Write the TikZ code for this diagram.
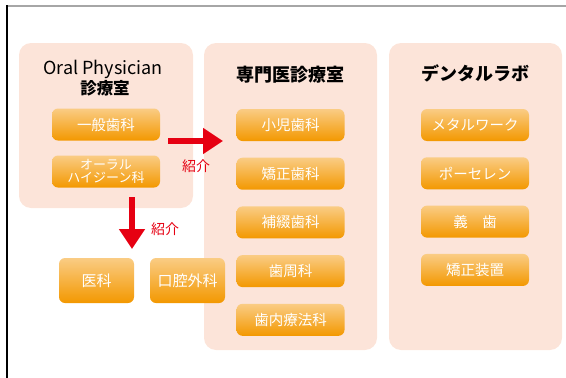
\documentclass[tikz,border=0pt]{standalone}
\usepackage{fontspec}
\setmainfont{Noto Sans CJK JP}
\usepackage{tikz}
\usetikzlibrary{arrows.meta, positioning}
\definecolor{panelbg}{RGB}{252,228,217}
\definecolor{btntop}{RGB}{250,204,132}
\definecolor{btnbot}{RGB}{243,152,0}
\definecolor{refred}{RGB}{230,0,18}
\tikzset{
  panel/.style={fill=panelbg, rounded corners=12pt, inner sep=0pt},
  btn/.style={rounded corners=6pt, top color=btntop, bottom color=btnbot, text=white,
    minimum width=108pt, minimum height=32pt, inner sep=0pt, align=center,
    font=\fontsize{14.5}{15}\selectfont},
  ptitle/.style={align=center, font=\fontsize{18}{19}\selectfont\bfseries},
  refer/.style={refred, line width=6.5pt, -{Triangle[length=20pt,width=25pt]}},
  referlabel/.style={text=refred, font=\fontsize{14}{15}\selectfont}
}

\begin{document}
\begin{tikzpicture}[x=1pt, y=-1pt]
        \useasboundingbox (0,0) rectangle (566,378);
        \draw[gray!70, line width=2pt] (7,6) -- (566,6);
        \draw[line width=1.5pt] (7,5) -- (7,378);

        \node[panel, minimum width=174pt, minimum height=165pt] (oral) at (106,125.5) {};
        \node[panel, minimum width=173pt, minimum height=307pt] (senmon) at (290.5,196.5) {};
        \node[panel, minimum width=173pt, minimum height=307pt] (labo) at (475.5,196.5) {};

        \node[ptitle, font=\fontsize{18}{19}\selectfont] (oralT) at (103,69) {Oral Physician};
        \node[ptitle, font=\fontsize{16.5}{19}\selectfont\bfseries] (oralT2) at (105,88.5) {診療室};
        \node[ptitle] (senmonT) at (290.5,75) {専門医診療室};
        \node[ptitle] (laboT) at (475,73.5) {デンタルラボ};

        \begin{scope}[node distance=47pt]
        \node[btn] (ippan) at (106,124.5) {一般歯科};
        \node[btn, font=\fontsize{13}{13}\selectfont] (hygiene) [below of=ippan] {オーラル\\ハイジーン科};
        \end{scope}

        \begin{scope}[node distance=48.7pt]
        \node[btn] (shoni) at (290.5,125) {小児歯科};
        \node[btn] (kyosei) [below of=shoni] {矯正歯科};
        \node[btn] (hotetsu) [below of=kyosei] {補綴歯科};
        \node[btn] (shishu) [below of=hotetsu] {歯周科};
        \node[btn] (shinai) [below of=shishu] {歯内療法科};
        \end{scope}

        \begin{scope}[node distance=48.3pt]
        \node[btn] (metal) at (475,125) {メタルワーク};
        \node[btn] (porcelain) [below of=metal] {ポーセレン};
        \node[btn] (gishi) [below of=porcelain] {義\quad 歯};
        \node[btn] (sochi) [below of=gishi] {矯正装置};
        \end{scope}

        \node[btn, minimum width=75pt, minimum height=45pt, font=\fontsize{15}{16}\selectfont] (ika) at (96.5,280.5) {医科};
        \node[btn, minimum width=75pt, minimum height=45pt, font=\fontsize{15}{16}\selectfont] (koku) [right of=ika, node distance=91pt] {口腔外科};

        \coordinate (r1) at (168,141);
        \coordinate (r2) at (223,141);
        \coordinate (d1) at (132,197);
        \coordinate (d2) at (132,249);
        \draw[refer] (r1) -- (r2);
        \draw[refer] (d1) -- (d2);
        \node[referlabel] at (196,166) {紹介};
        \node[referlabel] at (165,229) {紹介};
    \end{tikzpicture}
\end{document}
